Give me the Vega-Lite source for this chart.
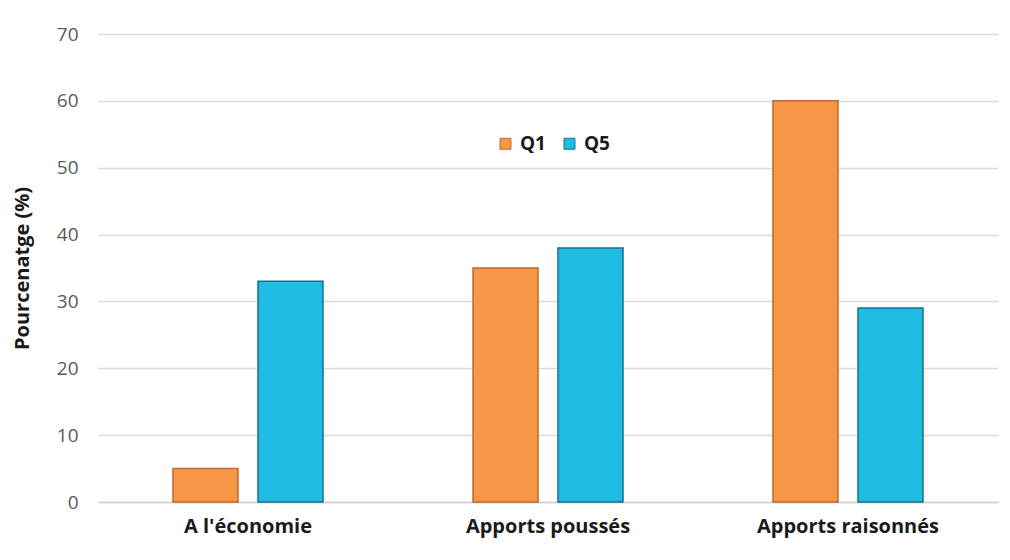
{
  "$schema": "https://vega.github.io/schema/vega-lite/v6.json",
  "autosize": "none",
  "width": 900,
  "height": 468,
  "padding": {"left": 98, "top": 34, "right": 12, "bottom": 58},
  "background": "white",
  "data": {
    "values": [
      {"cat": "A l'économie", "q": "Q1", "v": 5},
      {"cat": "A l'économie", "q": "Q5", "v": 33},
      {"cat": "Apports poussés", "q": "Q1", "v": 35},
      {"cat": "Apports poussés", "q": "Q5", "v": 38},
      {"cat": "Apports raisonnés", "q": "Q1", "v": 60},
      {"cat": "Apports raisonnés", "q": "Q5", "v": 29}
    ]
  },
  "mark": {"type": "bar", "strokeWidth": 1.5},
  "encoding": {
    "x": {
      "field": "cat", "type": "nominal", "sort": null,
      "scale": {"paddingInner": 0.5, "paddingOuter": 0.25},
      "axis": {"title": null, "labelAngle": 0, "labelLimit": 400, "labelFont": "Open Sans", "labelFontSize": 20, "labelFontWeight": "bold", "labelColor": "#1a1a1a", "labelPadding": 14, "ticks": false, "domainColor": "#d0d0d0", "domainWidth": 1.5}
    },
    "xOffset": {"field": "q", "type": "nominal", "scale": {"paddingInner": 0.235, "paddingOuter": 0}},
    "y": {
      "field": "v", "type": "quantitative",
      "scale": {"domain": [0, 70]},
      "axis": {"values": [0,10,20,30,40,50,60,70], "title": "Pourcenatge (%)", "titleFont": "Open Sans", "titleFontSize": 20, "titleFontWeight": "bold", "titleColor": "#1a1a1a", "titlePadding": 24, "labelFont": "Open Sans", "labelFontSize": 19, "labelColor": "#595959", "labelPadding": 20, "ticks": false, "domain": false, "gridColor": "#d9d9d9", "gridWidth": 1.5}
    },
    "color": {
      "field": "q", "type": "nominal",
      "scale": {"domain": ["Q1", "Q5"], "range": ["#f79646", "#1fbbe2"]},
      "legend": {"title": null, "orient": "none", "legendX": 398, "legendY": 100, "direction": "horizontal", "symbolType": "square", "symbolSize": 120, "symbolStrokeWidth": 1, "labelFont": "Open Sans", "labelFontSize": 19, "labelFontWeight": "bold", "labelColor": "#1a1a1a", "columnPadding": 14, "labelOffset": 5}
    },
    "stroke": {
      "field": "q", "type": "nominal",
      "scale": {"domain": ["Q1", "Q5"], "range": ["#c0692c", "#17708c"]},
      "legend": null
    }
  },
  "config": {"view": {"stroke": null}}
}
